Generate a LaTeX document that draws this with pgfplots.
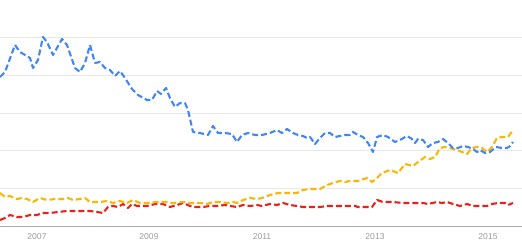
\documentclass[border=0pt]{standalone}
\usepackage{pgfplots}
\pgfplotsset{compat=1.18}
\usepackage{fontspec}
\setmainfont{Liberation Sans}
\definecolor{gblue}{HTML}{4285F4}
\definecolor{gyellow}{HTML}{F9B602}
\definecolor{gred}{HTML}{E8221B}
\definecolor{ggrid}{RGB}{232,232,232}
\definecolor{gtext}{RGB}{155,155,155}
\definecolor{gaxis}{RGB}{170,170,170}
\begin{document}
\begin{tikzpicture}
\begin{axis}[
  at={(0,0)}, anchor=south west,
  scale only axis, width=522bp, height=226bp,
  xmin=0, xmax=522, ymin=0, ymax=226, y dir=reverse,
  axis line style={draw=none},
  xtick={37,149,262,375,488},
  xticklabels={2007,2009,2011,2013,2015},
  xtick style={draw=none},
  ytick={37.7,75.3,113,150.7,188.3},
  yticklabels={},
  ytick style={draw=none},
  ymajorgrids, major grid style={ggrid, line width=0.8pt},
  xticklabel style={font=\fontsize{8.6}{10}\selectfont, text=gtext, yshift=-4pt},
  clip=false,
  every axis plot/.append style={line width=2.1pt, dash pattern=on 6pt off 3pt, line join=round, mark=none},
]
\draw[gaxis, line width=0.9pt] (axis cs:0,226) -- (axis cs:522,226);
\addplot[gred] coordinates {
(0,220)(5,218)(10,215)(17,217)(23,217)(30,215)(37,215)(43,213)(50,213)(58,212)(67,211)(75,211)(83,211)(90,211)(97,212)(103,213)(108,207)(113,206)(118,207)(123,204)(128,208)(132,204)(137,206)(147,206)(155,204)(163,204)(170,207)(177,205)(183,203)(190,206)(195,207)(203,207)(210,206)(217,206)(225,205)(230,206)(237,207)(243,205)(250,206)(257,205)(262,206)(270,204)(277,205)(283,203)(290,205)(297,206)(303,207)(310,207)(320,207)(327,206)(333,206)(340,206)(347,206)(355,206)(358,207)(363,207)(372,207)(377,200)(383,202)(393,202)(403,203)(413,203)(423,203)(428,204)(437,202)(442,203)(447,202)(453,204)(460,206)(467,204)(473,206)(487,206)(492,204)(498,203)(505,203)(508,205)(513,203)
};
\addplot[gyellow] coordinates {
(0,193)(5,197)(10,196)(17,199)(22,198)(27,199)(33,202)(40,198)(47,200)(55,199)(63,199)(68,198)(73,200)(80,199)(85,198)(90,202)(100,202)(107,201)(113,203)(120,201)(127,203)(133,200)(140,203)(147,203)(157,202)(167,202)(173,203)(183,202)(190,203)(200,203)(207,204)(213,202)(220,202)(227,203)(233,202)(237,203)(243,200)(250,198)(257,199)(262,198)(270,195)(278,193)(288,193)(297,193)(303,190)(310,189)(320,189)(327,185)(333,183)(340,181)(345,182)(350,181)(358,181)(367,178)(372,182)(377,178)(382,173)(390,170)(398,173)(405,164)(413,166)(418,162)(425,157)(430,159)(435,157)(440,148)(445,147)(450,148)(457,150)(462,152)(467,154)(472,148)(477,147)(482,148)(487,152)(492,147)(497,138)(502,137)(508,137)(513,130)
};
\addplot[gblue] coordinates {
(0,77)(5,72)(15,45)(20,52)(30,58)(33,68)(38,60)(43,37)(47,42)(53,55)(62,39)(67,45)(75,68)(80,72)(85,63)(90,45)(95,63)(100,62)(105,68)(110,70)(115,76)(120,71)(125,78)(132,89)(138,95)(147,100)(152,100)(157,91)(161,94)(166,88)(170,98)(175,107)(180,103)(185,103)(188,110)(193,132)(200,133)(208,135)(213,126)(218,133)(225,133)(232,134)(237,142)(242,135)(248,133)(255,135)(262,135)(270,133)(277,130)(282,133)(287,129)(293,133)(298,135)(303,136)(307,138)(310,137)(315,144)(320,138)(325,133)(330,133)(335,137)(340,136)(345,135)(350,135)(353,132)(358,135)(363,137)(368,143)(373,152)(377,137)(383,135)(388,137)(395,142)(400,140)(407,136)(412,139)(415,143)(418,139)(423,140)(428,147)(433,143)(438,142)(443,139)(448,143)(453,148)(458,148)(463,146)(468,147)(473,149)(477,152)(480,150)(485,153)(490,152)(496,147)(502,148)(507,148)(510,146)(513,142)
};
\end{axis}
\pgfresetboundingbox
\path (0,-22bp) rectangle (522bp,226bp);
\end{tikzpicture}
\end{document}
